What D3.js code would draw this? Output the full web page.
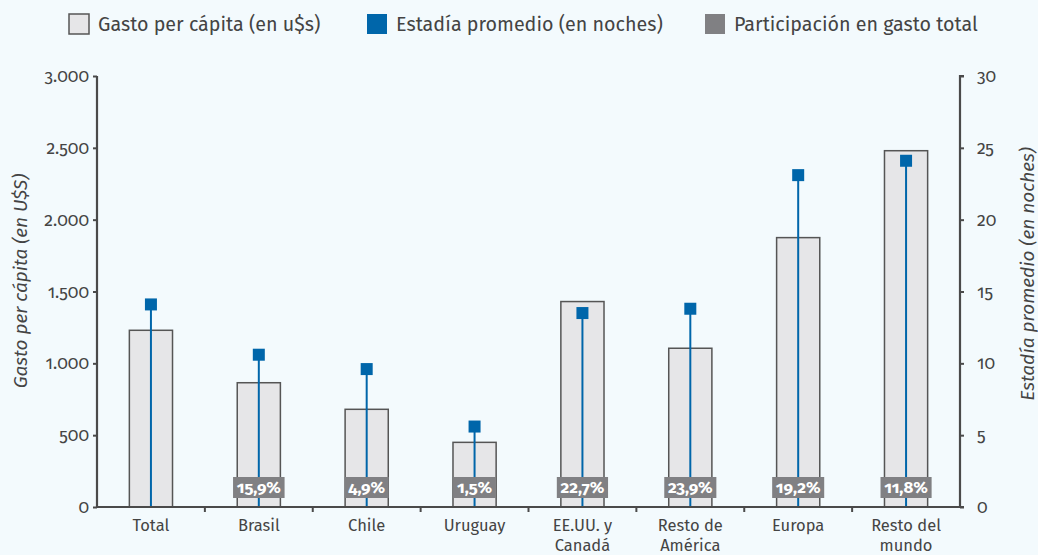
<!DOCTYPE html>
<html>
<head>
<meta charset="utf-8">
<script src="https://cdn.jsdelivr.net/npm/d3@7"></script>
<style>
  html, body { margin: 0; padding: 0; background: #f3fafd; }
  svg { display: block; font-family: "Fira Sans", "Noto Sans", "Open Sans", sans-serif; }
  .onum { font-variant-numeric: oldstyle-nums; font-feature-settings: "onum" 1; }
</style>
</head>
<body>
<svg id="chart" width="1038" height="555"></svg>
<script>
// Categories (multi-line labels split on "\n")
const categories = ["Total", "Brasil", "Chile", "Uruguay", "EE.UU. y\nCanadá", "Resto de\nAmérica", "Europa", "Resto del\nmundo"];
// Spending per capita (US$)
const gasto = [1230, 865, 680, 450, 1430, 1105, 1875, 2480];
// Average stay (nights)
const estadia = [14.1, 10.6, 9.6, 5.6, 13.5, 13.8, 23.1, 24.1];
// Share of total spending (null = no label)
const participacion = [null, "15,9%", "4,9%", "1,5%", "22,7%", "23,9%", "19,2%", "11,8%"];
// Axis ticks
const leftTicks = [0, 500, 1000, 1500, 2000, 2500, 3000];
const rightTicks = [0, 5, 10, 15, 20, 25, 30];

const svg = d3.select("#chart");
const margin = { left: 97, right: 78, top: 76, bottom: 48 };
const W = 1038, H = 555;
const x0 = margin.left, x1 = W - margin.right;
const y0 = H - margin.bottom, y1 = margin.top;

const x = d3.scaleBand().domain(categories).range([x0, x1]).paddingInner(0).paddingOuter(0);
const yL = d3.scaleLinear().domain([0, 3000]).range([y0, y1]);
const yR = d3.scaleLinear().domain([0, 30]).range([y0, y1]);

const fmt = d => d3.format(",")(d).replace(/,/g, ".");
const textCol = "#444";
const axisCol = "#4a4a4a";

// Bars
const barW = x.bandwidth() * 0.4;
svg.append("g").selectAll("rect").data(gasto).join("rect")
  .attr("x", (d, i) => x(categories[i]) + x.bandwidth() / 2 - barW / 2)
  .attr("y", d => yL(d))
  .attr("width", barW)
  .attr("height", d => y0 - yL(d))
  .attr("fill", "#e6e6e8")
  .attr("stroke", "#555")
  .attr("stroke-width", 1.5);

// Stems for the average stay
svg.append("g").selectAll("line").data(estadia).join("line")
  .attr("x1", (d, i) => x(categories[i]) + x.bandwidth() / 2)
  .attr("x2", (d, i) => x(categories[i]) + x.bandwidth() / 2)
  .attr("y1", y0)
  .attr("y2", d => yR(d))
  .attr("stroke", "#0066aa")
  .attr("stroke-width", 2);

// Markers
const mk = 12;
svg.append("g").selectAll("rect").data(estadia).join("rect")
  .attr("x", (d, i) => x(categories[i]) + x.bandwidth() / 2 - mk / 2)
  .attr("y", d => yR(d) - mk / 2)
  .attr("width", mk).attr("height", mk)
  .attr("fill", "#0066aa");

// Share labels
const lab = svg.append("g");
participacion.forEach((p, i) => {
  if (!p) return;
  const cx = x(categories[i]) + x.bandwidth() / 2;
  const g = lab.append("g");
  const t = g.append("text")
    .attr("class", "onum")
    .attr("x", cx).attr("y", 493)
    .attr("text-anchor", "middle")
    .attr("fill", "#fff")
    .attr("font-weight", "bold")
    .attr("font-size", 17)
    .text(p);
  const bb = t.node().getBBox();
  g.insert("rect", "text")
    .attr("x", cx - (bb.width + 7) / 2)
    .attr("y", 477)
    .attr("width", bb.width + 7)
    .attr("height", 21)
    .attr("fill", "#808083");
});

// Left axis
const axL = svg.append("g").attr("transform", `translate(${x0},0)`)
  .call(d3.axisLeft(yL).tickValues(leftTicks).tickFormat(fmt).tickSize(4).tickPadding(4));
// Right axis
const axR = svg.append("g").attr("transform", `translate(${x1},0)`)
  .call(d3.axisRight(yR).tickValues(rightTicks).tickSize(4).tickPadding(13));
// Bottom axis
const axB = svg.append("g").attr("transform", `translate(0,${y0})`)
  .call(d3.axisBottom(x).tickSize(0).tickFormat(""));
// Boundary ticks on the category axis
svg.append("g").selectAll("line").data(categories.slice(1)).join("line")
  .attr("x1", d => x(d)).attr("x2", d => x(d))
  .attr("y1", y0).attr("y2", y0 + 5)
  .attr("stroke", axisCol).attr("stroke-width", 2);

[axL, axR, axB].forEach(a => {
  a.select(".domain").attr("stroke", axisCol).attr("stroke-width", 2.2);
  a.selectAll(".tick line").attr("stroke", axisCol).attr("stroke-width", 2);
  a.selectAll("text").attr("fill", textCol).attr("font-size", 17.5).attr("class", "onum")
    .attr("font-family", "\"Fira Sans\", \"Noto Sans\", \"Open Sans\", sans-serif");
});
axL.select(".domain").attr("d", `M-0,${y1}H0V${y0}`);
axR.select(".domain").attr("d", `M4,${y1}H0V${y0}`);
axB.select(".domain").attr("d", `M${x0},0H${x1 + 4}`);

// Category labels
const cl = svg.append("g");
categories.forEach(c => {
  const lines = c.split("\n");
  const t = cl.append("text")
    .attr("x", x(c) + x.bandwidth() / 2)
    .attr("y", 531)
    .attr("text-anchor", "middle")
    .attr("fill", textCol)
    .attr("font-size", 16.5);
  lines.forEach((ln, j) => {
    t.append("tspan").attr("x", x(c) + x.bandwidth() / 2).attr("dy", j === 0 ? 0 : 20).text(ln);
  });
});

// Axis titles
svg.append("text")
  .attr("transform", `translate(27,281) rotate(-90)`)
  .attr("text-anchor", "middle")
  .attr("font-style", "italic").attr("font-size", 19).attr("fill", textCol)
  .text("Gasto per cápita (en U$S)");
svg.append("text")
  .attr("transform", `translate(1034,274) rotate(-90)`)
  .attr("text-anchor", "middle")
  .attr("font-style", "italic").attr("font-size", 19).attr("fill", textCol)
  .text("Estadía promedio (en noches)");

// Legend
const legend = [
  { label: "Gasto per cápita (en u$s)", fill: "#e6e6e8", stroke: "#555", x: 69 },
  { label: "Estadía promedio (en noches)", fill: "#0066aa", stroke: "none", x: 367 },
  { label: "Participación en gasto total", fill: "#808083", stroke: "none", x: 705 }
];
const lg = svg.append("g");
legend.forEach(l => {
  lg.append("rect").attr("x", l.x).attr("y", 14).attr("width", 20).attr("height", 20)
    .attr("fill", l.fill).attr("stroke", l.stroke).attr("stroke-width", 1.5);
  lg.append("text").attr("x", l.x + 29).attr("y", 31)
    .attr("fill", textCol).attr("font-size", 19.7).text(l.label);
});
</script>
</body>
</html>
